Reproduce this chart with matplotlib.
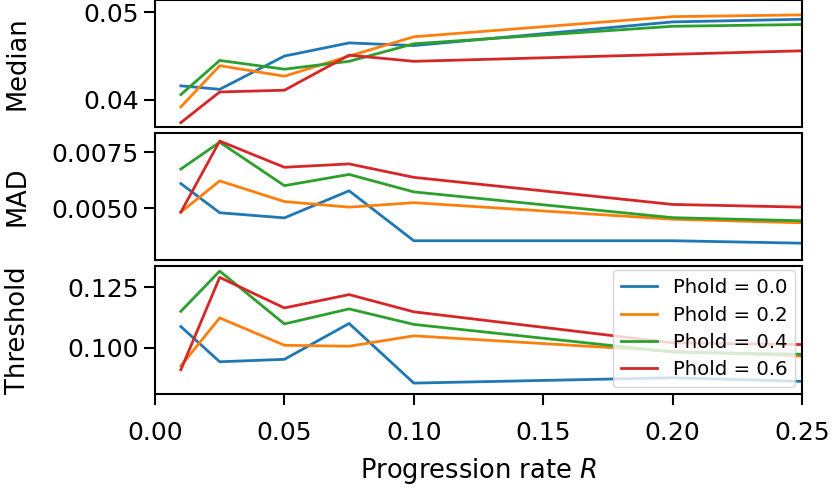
import numpy as np
import matplotlib
matplotlib.use('Agg')
import matplotlib.pyplot as plt

# progression rates and hold probabilities
rates = [0.01, 0.025, 0.05, 0.075, 0.1, 0.2, 0.25]
pholds = [0.0, 0.2, 0.4, 0.6]

median_vals = [
  [0.0416, 0.0412, 0.0450, 0.0465, 0.0462, 0.0489, 0.0492],
  [0.0392, 0.0439, 0.0427, 0.0450, 0.0472, 0.0495, 0.0497],
  [0.0406, 0.0445, 0.0435, 0.0444, 0.0464, 0.0484, 0.0486],
  [0.0374, 0.0409, 0.0411, 0.0451, 0.0444, 0.0452, 0.0456],
]
mad_vals = [
  [0.00609, 0.00479, 0.00456, 0.00577, 0.00354, 0.00354, 0.00343],
  [0.00482, 0.00621, 0.00529, 0.00504, 0.00524, 0.00450, 0.00434],
  [0.00674, 0.00794, 0.00600, 0.00650, 0.00572, 0.00457, 0.00443],
  [0.00482, 0.00799, 0.00682, 0.00697, 0.00637, 0.00516, 0.00504],
]
threshold_vals = [
  [0.1088, 0.0943, 0.0953, 0.1101, 0.0855, 0.0877, 0.0862],
  [0.0926, 0.1124, 0.1011, 0.1007, 0.1050, 0.0986, 0.0966],
  [0.1151, 0.1317, 0.1099, 0.1161, 0.1097, 0.0983, 0.0974],
  [0.0910, 0.1291, 0.1165, 0.1220, 0.1149, 0.1021, 0.1014],
]

plt.rcParams['font.size'] = 18
plt.rcParams['axes.labelsize'] = 18.5
plt.rcParams['axes.linewidth'] = 1.5
plt.rcParams['xtick.major.size'] = 8
plt.rcParams['ytick.major.size'] = 8
plt.rcParams['xtick.major.width'] = 1.5
plt.rcParams['ytick.major.width'] = 1.5

W, H = 832, 492
fig = plt.figure(figsize=(W/100, H/100), dpi=100)
left, right = 155/W, 802/W
panel_px = [(0, 127), (133, 260), (266, 394)]  # (top, bottom) in pixels
axs = []
for i, (t, b) in enumerate(panel_px):
  rect = [left, 1 - b/H, right - left, (b - t)/H]
  if i == 0:
    ax = fig.add_axes(rect)
  else:
    ax = fig.add_axes(rect, sharex=axs[0])
  axs.append(ax)

panels = [
  (median_vals, 'Median', (0.0369, 0.0514), [0.04, 0.05]),
  (mad_vals, 'MAD', (0.00268, 0.00835), [0.0050, 0.0075]),
  (threshold_vals, 'Threshold', (0.0810, 0.1338), [0.100, 0.125]),
]
for ax, (vals, label, ylim, yticks) in zip(axs, panels):
  for k, ph in enumerate(pholds):
    ax.plot(rates, vals[k], '-', lw=2.0, label='Phold = %0.1f' % ph)
  ax.set_ylim(*ylim)
  ax.set_yticks(yticks)
  ax.set_ylabel(label)
  ax.yaxis.set_label_coords(-0.192, 0.5)

axs[0].set_xlim(0, 0.25)
axs[0].set_xticks([0.0, 0.05, 0.10, 0.15, 0.20, 0.25])
for ax in axs[:2]:
  ax.tick_params(axis='x', bottom=False, labelbottom=False)
axs[2].tick_params(axis='x', pad=11.5)
axs[2].set_xlabel('Progression rate $R$', labelpad=8)
axs[2].legend(loc='lower right', fontsize=14.2, handlelength=1.8,
              borderaxespad=0.35, labelspacing=0.42)

fig.savefig('out.png', dpi=100)
